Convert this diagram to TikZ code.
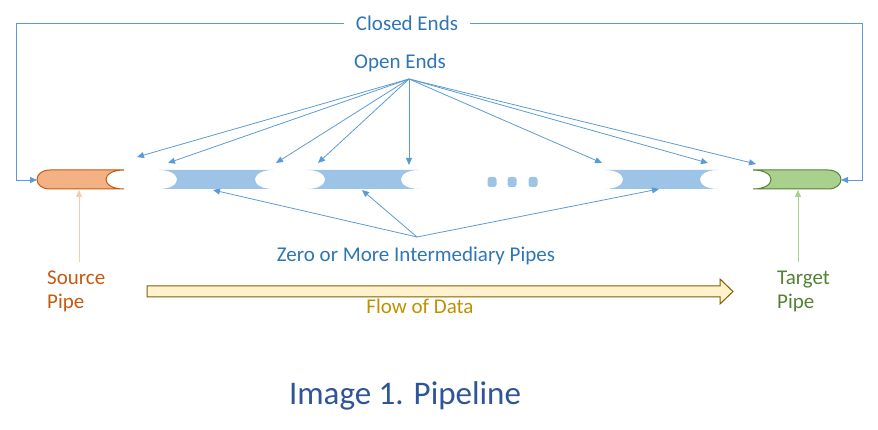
\documentclass[tikz,border=0pt]{standalone}
\usepackage{fontspec}
\setmainfont{Carlito}
\usetikzlibrary{arrows.meta}
\definecolor{pipeblue}{HTML}{9DC3E6}
\definecolor{lineblue}{HTML}{5B9BD5}
\definecolor{textblue}{HTML}{2E75B6}
\definecolor{titleblue}{HTML}{2F5597}
\definecolor{srcfill}{HTML}{F4B183}
\definecolor{srcline}{HTML}{C55A11}
\definecolor{srcarrow}{HTML}{F8CBAD}
\definecolor{tgtfill}{HTML}{A9D18E}
\definecolor{tgtline}{HTML}{548235}
\definecolor{flowfill}{HTML}{FFF2CC}
\definecolor{flowline}{HTML}{7F6000}
\definecolor{flowtext}{HTML}{BF9000}
\begin{document}
\begin{tikzpicture}[x=1pt, y=-1pt,
		label text/.style={font=\fontsize{21}{24}\selectfont, inner sep=0pt},
		link/.style={draw=lineblue, line width=0.8pt, -{Triangle[length=7pt,width=6pt]}},
		frame/.style={draw=lineblue, line width=0.9pt, -{Triangle[length=7pt,width=6pt]}},
		mid pipe/.style={fill=pipeblue},
		src pipe/.style={fill=srcfill, draw=srcline, line width=1pt},
		tgt pipe/.style={fill=tgtfill, draw=tgtline, line width=1pt},
		flow/.style={fill=flowfill, draw=flowline, line width=1pt}]
		\useasboundingbox (0,0) rectangle (878,430);
		% pipes
		\path[src pipe] (50,170) .. controls (32.7,170) and (32.7,189) .. (50,189) -- (124,189)
		  .. controls (100,189) and (100,170) .. (124,170) -- cycle;
		\foreach \a/\b in {159/273, 307/419, 605/718}{
		  \fill[mid pipe] (\a,170) .. controls (\a+24,170) and (\a+24,189) .. (\a,189) -- (\b,189)
		    .. controls (\b-24,189) and (\b-24,170) .. (\b,170) -- cycle;
		}
		\path[tgt pipe] (753,170) .. controls (777,170) and (777,189) .. (753,189) -- (828,189)
		  .. controls (845.3,189) and (845.3,170) .. (828,170) -- cycle;
		\foreach \x in {492,512,533}{
		  \fill[mid pipe, rounded corners=2.5pt] (\x-4.5,177) rectangle (\x+4.5,187);
		}
		\coordinate (srcW) at (37,180);
		\coordinate (tgtE) at (841,180);
		% closed ends
		\node[label text, text=textblue, inner xsep=12pt] (closed) at (407,23) {Closed Ends};
		\draw[frame] (closed.west) -- (16,23) |- (srcW);
		\draw[frame] (closed.east) -- (862,23) |- (tgtE);
		% open ends
		\node[label text, text=textblue] (open) at (400,63) {Open Ends};
		\coordinate (oe) at (409,79);
		\foreach \x/\y [count=\i] in {137/157, 168/163, 276/163, 318/163, 409/165, 602/163, 708/163, 756/164}{
		  \coordinate (end\i) at (\x,\y);
		  \draw[link] (oe) -- (end\i);
		}
		% intermediary pipes
		\node[label text, text=textblue] (zero) at (416,256) {Zero or More Intermediary Pipes};
		\coordinate (zp) at (417,237);
		\foreach \x/\y [count=\i] in {213/190, 362/190, 659/189}{
		  \coordinate (mid\i) at (\x,\y);
		  \draw[link] (zp) -- (mid\i);
		}
		% source and target
		\node[label text, text=srcline, align=left, anchor=west] (srclabel) at (47,291) {Source\\Pipe};
		\coordinate (srcfoot) at (79,262);
		\coordinate (srcS) at (79,190);
		\draw[draw=srcarrow, line width=0.8pt, -{Triangle[length=7pt,width=6pt]}] (srcfoot) -- (srcS);
		\node[label text, text=tgtline, align=left, anchor=west] (tgtlabel) at (777,291) {Target\\Pipe};
		\coordinate (tgtfoot) at (798,262);
		\coordinate (tgtS) at (798,190);
		\draw[draw=tgtfill, line width=0.8pt, -{Triangle[length=7pt,width=6pt]}] (tgtfoot) -- (tgtS);
		% flow of data
		\path[flow] (147,286) -- (720,286) -- (720,279) -- (733,291.5) -- (720,304) -- (720,297) -- (147,297) -- cycle;
		\node[label text, text=flowtext] (flowlabel) at (420,306) {Flow of Data};
		% title
		\node[font=\fontsize{33}{38}\selectfont, text=titleblue, inner sep=0pt] (title) at (405,396) {Image 1. Pipeline};
	\end{tikzpicture}
\end{document}
